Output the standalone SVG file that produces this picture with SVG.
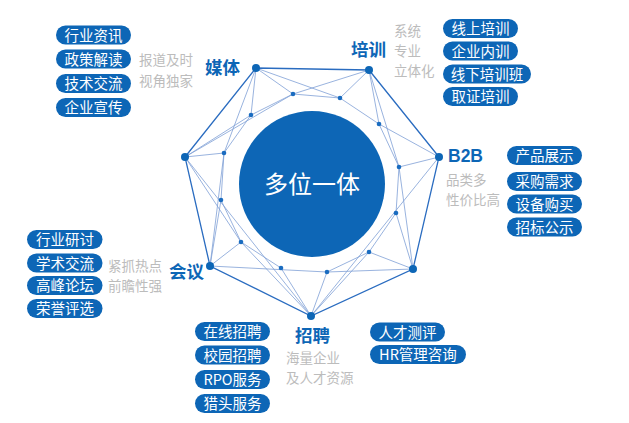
<svg xmlns="http://www.w3.org/2000/svg" width="629" height="423" viewBox="0 0 629 423">
<style>
.pill{fill:#0d66b6}
.pt{font-family:"Noto Sans CJK SC","Liberation Sans",sans-serif;font-size:14.5px;fill:#fff;text-anchor:middle}
.hd{font-family:"Liberation Sans","Noto Sans CJK SC",sans-serif;font-weight:bold;font-size:17.5px;fill:#0d66b6}
.gr{font-family:"Noto Sans CJK SC",sans-serif;font-size:13.5px;fill:#bcbcbc}
.ol{stroke:#2a6cc0;stroke-width:1.3;fill:none}
.il{stroke:#7f9fd6;stroke-width:0.8;fill:none}
.on{fill:#0d66b6}
.in{fill:#1a6cc0}
</style>
<rect width="629" height="423" fill="#fff"/>
<g id="connectors">
<polygon class="ol" points="256,68 369,70 439,157 413,269 311,316 210,266 185,157"/>
<path class="il" d="M256,68L293,94M256,68L340,98M256,68L251,115M256,68L224,153
M369,70L293,94M369,70L340,98M369,70L379,124M369,70L399,167
M439,157L379,124M439,157L399,167M439,157L311,316
M413,269L399,167M413,269L396,213M413,269L369,252M413,269L327,272
M311,316L369,252M311,316L327,272M311,316L281,268M311,316L241,242
M210,266L327,272M210,266L241,242M210,266L221,200M210,266L224,153
M185,157L224,153M185,157L251,115M185,157L293,94M185,157L241,242M185,157L311,316
M293,94L340,98L379,124L399,167L396,213L369,252L327,272M281,268L241,242L221,200L224,153L251,115L293,94"/>
</g>
<g id="center">
<circle cx="312" cy="184" r="73" fill="#0d66b6"/>
<text x="312" y="192.5" font-family="Noto Sans CJK SC,sans-serif" font-size="24" fill="#fff" text-anchor="middle">多位一体</text>
</g>
<g id="dots">
<circle class="on" cx="256" cy="68" r="4"/><circle class="on" cx="369" cy="70" r="4"/><circle class="on" cx="439" cy="157" r="4"/><circle class="on" cx="413" cy="269" r="4"/><circle class="on" cx="311" cy="316" r="4"/><circle class="on" cx="210" cy="266" r="4"/><circle class="on" cx="185" cy="157" r="4"/>
<circle class="in" cx="293" cy="94" r="2.3"/><circle class="in" cx="340" cy="98" r="2.3"/><circle class="in" cx="251" cy="115" r="2.3"/><circle class="in" cx="379" cy="124" r="2.3"/><circle class="in" cx="224" cy="153" r="2.3"/><circle class="in" cx="399" cy="167" r="2.3"/><circle class="in" cx="221" cy="200" r="2.3"/><circle class="in" cx="396" cy="213" r="2.3"/><circle class="in" cx="241" cy="242" r="2.3"/><circle class="in" cx="369" cy="252" r="2.3"/><circle class="in" cx="281" cy="268" r="2.3"/><circle class="in" cx="327" cy="272" r="2.3"/>
</g>
<g id="media">
<text class="hd" x="205" y="74">媒体</text>
<text class="gr" x="139" y="65">报道及时</text>
<text class="gr" x="139" y="86">视角独家</text>
<rect class="pill" x="56" y="25.5" width="75" height="19" rx="9.5"/><text class="pt" x="93.5" y="40.5">行业资讯</text>
<rect class="pill" x="56" y="49.5" width="75" height="19" rx="9.5"/><text class="pt" x="93.5" y="64.5">政策解读</text>
<rect class="pill" x="56" y="74" width="75" height="19" rx="9.5"/><text class="pt" x="93.5" y="89">技术交流</text>
<rect class="pill" x="56" y="98" width="75" height="19" rx="9.5"/><text class="pt" x="93.5" y="113">企业宣传</text>
</g>
<g id="training">
<text class="hd" x="351" y="56">培训</text>
<text class="gr" x="394" y="36">系统</text>
<text class="gr" x="394" y="56">专业</text>
<text class="gr" x="394" y="76">立体化</text>
<rect class="pill" x="443" y="19" width="75" height="19" rx="9.5"/><text class="pt" x="480.5" y="34">线上培训</text>
<rect class="pill" x="443" y="41.5" width="75" height="19" rx="9.5"/><text class="pt" x="480.5" y="56.5">企业内训</text>
<rect class="pill" x="443" y="64.5" width="88" height="19" rx="9.5"/><text class="pt" x="487" y="79.5">线下培训班</text>
<rect class="pill" x="443" y="87" width="75" height="19" rx="9.5"/><text class="pt" x="480.5" y="102">取证培训</text>
</g>
<g id="b2b">
<text class="hd" x="448" y="162" font-size="18">B2B</text>
<text class="gr" x="446" y="185">品类多</text>
<text class="gr" x="446" y="205">性价比高</text>
<rect class="pill" x="507" y="146" width="75" height="19" rx="9.5"/><text class="pt" x="544.5" y="161">产品展示</text>
<rect class="pill" x="507" y="172" width="75" height="19" rx="9.5"/><text class="pt" x="544.5" y="187">采购需求</text>
<rect class="pill" x="507" y="194.5" width="75" height="19" rx="9.5"/><text class="pt" x="544.5" y="209.5">设备购买</text>
<rect class="pill" x="507" y="217.5" width="75" height="19" rx="9.5"/><text class="pt" x="544.5" y="232.5">招标公示</text>
</g>
<g id="meeting">
<text class="hd" x="169" y="278">会议</text>
<text class="gr" x="108" y="271">紧抓热点</text>
<text class="gr" x="108" y="291">前瞻性强</text>
<rect class="pill" x="27" y="230" width="75.5" height="19" rx="9.5"/><text class="pt" x="65" y="245">行业研讨</text>
<rect class="pill" x="27" y="253.5" width="75.5" height="19" rx="9.5"/><text class="pt" x="65" y="268.5">学术交流</text>
<rect class="pill" x="27" y="276" width="75.5" height="19" rx="9.5"/><text class="pt" x="65" y="291">高峰论坛</text>
<rect class="pill" x="27" y="299" width="75.5" height="19" rx="9.5"/><text class="pt" x="65" y="314">荣誉评选</text>
</g>
<g id="recruit">
<text class="hd" x="295" y="342">招聘</text>
<text class="gr" x="286" y="362.5" font-size="13">海量企业</text>
<text class="gr" x="286" y="382.5" font-size="13">及人才资源</text>
<rect class="pill" x="195" y="322" width="75" height="19" rx="9.5"/><text class="pt" x="232.5" y="337">在线招聘</text>
<rect class="pill" x="195" y="345.5" width="75" height="19" rx="9.5"/><text class="pt" x="232.5" y="360.5">校园招聘</text>
<rect class="pill" x="195" y="370" width="75" height="19" rx="9.5"/><text class="pt" x="232.5" y="385">RPO服务</text>
<rect class="pill" x="195" y="394" width="75" height="19" rx="9.5"/><text class="pt" x="232.5" y="409">猎头服务</text>
<rect class="pill" x="370" y="322.5" width="75" height="19" rx="9.5"/><text class="pt" x="407.5" y="337.5">人才测评</text>
<rect class="pill" x="370" y="345" width="96" height="19" rx="9.5"/><text class="pt" x="418" y="360">HR管理咨询</text>
</g>
</svg>
